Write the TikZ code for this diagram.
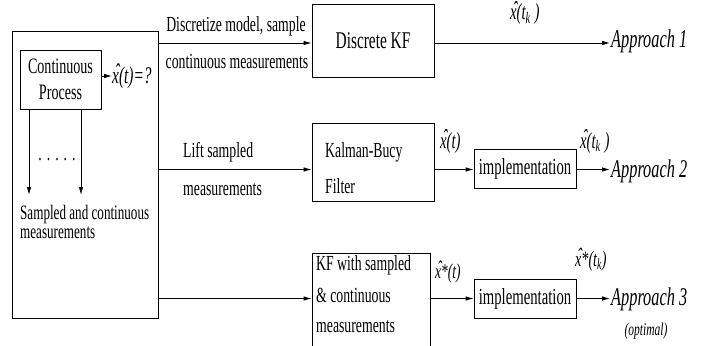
\documentclass[tikz,border=0pt]{standalone}
\usepackage{fontspec}
\setmainfont{Liberation Serif}[FakeStretch=0.64]
\usetikzlibrary{arrows.meta}
\newcommand\hx{\makebox[0pt][l]{\hspace{0.1em}\raisebox{0.1em}{\char"02C6}}x}
\begin{document}
\begin{tikzpicture}[x=1pt,y=-1pt,
 box/.style={draw, line width=0.8pt, inner sep=0, minimum width=#1},
 arr/.style={-{Latex[length=8pt,width=4.5pt]}, line width=0.8pt},
 txt/.style={inner sep=0, font=\fontsize{21.5}{26}\selectfont},
 appr/.style={inner sep=0, font=\fontsize{25.5}{30}\selectfont\itshape},
 lab/.style={inner sep=0, font=\fontsize{23}{26}\selectfont\itshape},
]
\useasboundingbox (0,0) rectangle (708,345);
\clip (0,0) rectangle (708,345);
% boxes
\node[box=146pt, minimum height=287pt] (outer) at (85,174.5) {};
\node[box=81pt, minimum height=59pt, align=center, font=\fontsize{22}{26}\selectfont] (cp) at (60.5,79.5) {Continuous\\Process};
\node[box=122pt, minimum height=73pt, font=\fontsize{24}{28}\selectfont] (dkf) at (373,40.5) {Discrete KF};
\node[box=122pt, minimum height=78pt] (kb) at (373,162) {};
\node[box=102pt, minimum height=39pt, font=\fontsize{23}{28}\selectfont] (imp2) at (525,168.5) {implementation};
\node[box=118pt, minimum height=97pt] (kf3) at (371,301.5) {};
\node[box=102pt, minimum height=39pt, font=\fontsize{23}{28}\selectfont] (imp3) at (525,298.5) {implementation};
% inner texts
\node[txt, anchor=base west] (kbt1) at (325,157) {Kalman-Bucy};
\node[txt, anchor=base west] (kbt2) at (325,193) {Filter};
\node[txt, anchor=base west] (kft1) at (316,270) {KF with sampled};
\node[txt, anchor=base west] (kft2) at (316,302) {\& continuous};
\node[txt, anchor=base west] (kft3) at (316,332) {measurements};
% left part
\coordinate (q) at (112,76);
\draw[arr] (cp.east |- q) -- (q);
\node[lab, font=\fontsize{24}{28}\selectfont\itshape, anchor=base west] (qlab) at (112,83) {\hx(t)=?};
\coordinate (v1) at (29,195);
\coordinate (v2) at (81,195);
\draw[arr] (cp.south -| v1) -- (v1);
\draw[arr] (cp.south -| v2) -- (v2);
\node[txt, anchor=base] (dots) at (57,160) {.\hspace{5pt}.\hspace{5pt}.\hspace{5pt}.\hspace{5pt}.};
\node[txt, anchor=base west, font=\fontsize{20.5}{24}\selectfont] (sc1) at (20,219) {Sampled and continuous};
\node[txt, anchor=base west, font=\fontsize{20.5}{24}\selectfont] (sc2) at (20,238) {measurements};
% approach 1
\coordinate (a1) at (0,43);
\coordinate (e1) at (610,43);
\draw[arr] (outer.east |- a1) -- (dkf.west |- a1);
\node[txt, anchor=base] (l1a) at (236,31) {Discretize model, sample};
\node[txt, anchor=base] (l1b) at (237,68) {continuous measurements};
\draw[arr] (dkf.east |- a1) -- (e1);
\node[lab, anchor=base west] (h1) at (510,20) {\hx(t\textsubscript{k}\,)};
\node[appr, anchor=base west] (ap1) at (611,48) {Approach 1};
% approach 2
\coordinate (a2) at (0,169.5);
\coordinate (e2) at (610,169.5);
\draw[arr] (outer.east |- a2) -- (kb.west |- a2);
\node[txt, anchor=base west] (l2a) at (183,157) {Lift sampled};
\node[txt, anchor=base west] (l2b) at (183,195) {measurements};
\draw[arr] (kb.east |- a2) -- (imp2.west |- a2);
\draw[arr] (imp2.east |- a2) -- (e2);
\node[lab, anchor=base west] (h2) at (440,148) {\hx(t)};
\node[lab, anchor=base west] (h3) at (580,148) {\hx(t\textsubscript{k}\,)};
\node[appr, anchor=base west] (ap2) at (611,177) {Approach 2};
% approach 3
\coordinate (a3) at (0,298.5);
\coordinate (e3) at (610,298.5);
\draw[arr] (outer.east |- a3) -- (kf3.west |- a3);
\draw[arr] (kf3.east |- a3) -- (imp3.west |- a3);
\draw[arr] (imp3.east |- a3) -- (e3);
\node[lab, font=\fontsize{21}{24}\selectfont\itshape, anchor=base west] (h4) at (435,278) {\hx*(t)};
\node[lab, font=\fontsize{22}{24}\selectfont\itshape, anchor=base west] (h5) at (575,266) {\hx*(t\textsubscript{k})};
\node[appr, anchor=base west] (ap3) at (611,305) {Approach 3};
\node[lab, font=\fontsize{18}{22}\selectfont\itshape, anchor=base] (opt) at (646,335) {(optimal)};
\end{tikzpicture}
\end{document}
